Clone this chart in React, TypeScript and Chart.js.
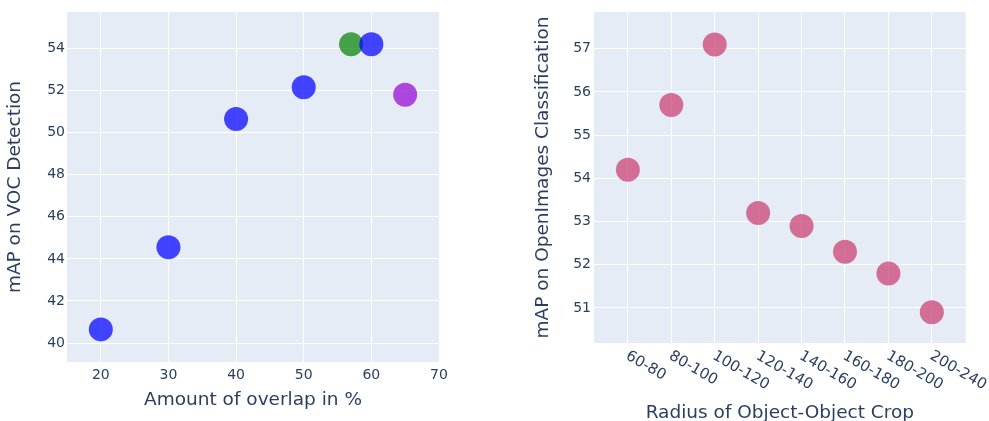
import React, { useEffect, useRef } from 'react';
import { Chart, registerables } from 'chart.js';

Chart.register(...registerables);

// ---------- data ----------
const overlapBlue = [20, 30, 40, 50, 60];
const vocBlue = [40.65, 44.55, 50.65, 52.15, 54.2];
const overlapGreen = [57];
const vocGreen = [54.2];
const overlapPurple = [65];
const vocPurple = [51.8];

const radiusCategories = ['60-80', '80-100', '100-120', '120-140', '140-160', '160-180', '180-200', '200-240'];
const openImagesMap = [54.2, 55.7, 57.1, 53.2, 52.9, 52.3, 51.8, 50.9];

const leftXTicks = [20, 30, 40, 50, 60, 70];
const leftYTicks = [40, 42, 44, 46, 48, 50, 52, 54];
const rightYTicks = [51, 52, 53, 54, 55, 56, 57];

// ---------- style ----------
const FONT = 'DejaVu Sans';
const TEXT = '#2a3f5f';
const PLOT_BG = '#e5ecf6';
const GRID = '#ffffff';

const bgPlugin = {
  id: 'plotBg',
  beforeDraw(chart: any) {
    const { ctx, chartArea } = chart;
    ctx.save();
    ctx.fillStyle = PLOT_BG;
    ctx.fillRect(chartArea.left, chartArea.top, chartArea.right - chartArea.left, chartArea.bottom - chartArea.top);
    ctx.restore();
  },
};

const rotatedTicksPlugin = {
  id: 'rotTicks',
  afterDraw(chart: any) {
    const s = chart.scales.x;
    const ctx = chart.ctx;
    ctx.save();
    ctx.font = `15px "${FONT}"`;
    ctx.fillStyle = TEXT;
    ctx.textAlign = 'left';
    ctx.textBaseline = 'middle';
    radiusCategories.forEach((lab, i) => {
      const x = s.getPixelForValue(i);
      ctx.save();
      ctx.translate(x - 1, s.top + 12);
      ctx.rotate(Math.PI / 6);
      ctx.fillText(lab, 0, 0);
      ctx.restore();
    });
    ctx.restore();
  },
};

const fixBox = (w: number | null, h: number | null) => (s: any) => {
  if (w !== null) s.width = w;
  if (h !== null) s.height = h;
  s.paddingLeft = 0;
  s.paddingRight = 0;
  s.paddingTop = 0;
  s.paddingBottom = 0;
};

const setTicks = (vals: number[]) => (s: any) => {
  s.ticks = vals.map((v) => ({ value: v }));
};

const tickFont = { family: FONT, size: 14 };
const titleFont = { family: FONT, size: 18.5 };

function LeftChart() {
  const ref = useRef<HTMLCanvasElement>(null);
  useEffect(() => {
    const chart = new Chart(ref.current!, {
      type: 'scatter',
      data: {
        datasets: [
          {
            label: 'blue',
            data: overlapBlue.map((x, i) => ({ x, y: vocBlue[i] })),
            backgroundColor: 'rgba(0,0,255,0.72)',
            pointRadius: 12,
            pointHoverRadius: 12,
            borderWidth: 0,
          },
          {
            label: 'green',
            data: overlapGreen.map((x, i) => ({ x, y: vocGreen[i] })),
            backgroundColor: 'rgba(0,128,0,0.7)',
            pointRadius: 12,
            pointHoverRadius: 12,
            borderWidth: 0,
          },
          {
            label: 'purple',
            data: overlapPurple.map((x, i) => ({ x, y: vocPurple[i] })),
            backgroundColor: 'rgba(148,0,211,0.7)',
            pointRadius: 12,
            pointHoverRadius: 12,
            borderWidth: 0,
          },
        ],
      },
      options: {
        responsive: false,
        animation: false,
        devicePixelRatio: 1,
        layout: { padding: { left: 0, right: 55, top: 7, bottom: 0 } },
        plugins: { legend: { display: false }, tooltip: { enabled: true } },
        scales: {
          x: {
            type: 'linear',
            min: 15,
            max: 70,
            afterBuildTicks: setTicks(leftXTicks),
            afterFit: fixBox(null, 59),
            grid: { color: GRID, lineWidth: 1, drawTicks: false },
            border: { display: false },
            ticks: { font: tickFont, color: TEXT, padding: 5, maxRotation: 0, autoSkip: false },
            title: {
              display: true,
              text: 'Amount of overlap in %',
              font: titleFont,
              color: TEXT,
              padding: { top: 0, bottom: 10 },
            },
          },
          y: {
            type: 'linear',
            min: 39.1,
            max: 55.73,
            afterBuildTicks: setTicks(leftYTicks),
            afterFit: fixBox(67, null),
            grid: { color: GRID, lineWidth: 1, drawTicks: false },
            border: { display: false },
            ticks: { font: tickFont, color: TEXT, padding: 2, autoSkip: false },
            title: {
              display: true,
              text: 'mAP on VOC Detection',
              font: titleFont,
              color: TEXT,
              padding: { top: 4, bottom: 0 },
            },
          },
        },
      },
      plugins: [bgPlugin],
    } as any);
    return () => chart.destroy();
  }, []);
  return <canvas ref={ref} width={494} height={421} style={{ display: 'block', width: 494, height: 421 }} />;
}

function RightChart() {
  const ref = useRef<HTMLCanvasElement>(null);
  useEffect(() => {
    const chart = new Chart(ref.current!, {
      type: 'scatter',
      data: {
        datasets: [
          {
            label: 'OpenImages',
            data: openImagesMap.map((y, i) => ({ x: i, y })),
            backgroundColor: 'rgba(205,79,126,0.8)',
            pointRadius: 12,
            pointHoverRadius: 12,
            borderWidth: 0,
          },
        ],
      },
      options: {
        responsive: false,
        animation: false,
        devicePixelRatio: 1,
        layout: { padding: { left: 0, right: 23.3, top: 7, bottom: 0 } },
        plugins: { legend: { display: false } },
        scales: {
          x: {
            type: 'linear',
            min: -0.78,
            max: 7.78,
            afterBuildTicks: setTicks(radiusCategories.map((_, i) => i)),
            afterFit: fixBox(null, 78),
            grid: { color: GRID, lineWidth: 1, drawTicks: false },
            border: { display: false },
            ticks: { display: false },
            title: {
              display: true,
              text: 'Radius of Object-Object Crop',
              font: titleFont,
              color: TEXT,
              padding: { top: 0, bottom: -3 },
            },
          },
          y: {
            type: 'linear',
            min: 50.19,
            max: 57.85,
            afterBuildTicks: setTicks(rightYTicks),
            afterFit: fixBox(100, null),
            grid: { color: GRID, lineWidth: 1, drawTicks: false },
            border: { display: false },
            ticks: { font: tickFont, color: TEXT, padding: 3, autoSkip: false },
            title: {
              display: true,
              text: 'mAP on OpenImages Classification',
              font: titleFont,
              color: TEXT,
              padding: { top: 38, bottom: 0 },
            },
          },
        },
      },
      plugins: [bgPlugin, rotatedTicksPlugin],
    } as any);
    return () => chart.destroy();
  }, []);
  return <canvas ref={ref} width={495} height={421} style={{ display: 'block', width: 495, height: 421 }} />;
}

export default function App() {
  return (
    <div style={{ position: 'fixed', left: 0, top: 0, width: 989, height: 421, background: '#ffffff', overflow: 'hidden' }}>
      <div style={{ position: 'absolute', left: 0, top: 0, width: 494, height: 421 }}>
        <LeftChart />
      </div>
      <div style={{ position: 'absolute', left: 494, top: 0, width: 495, height: 421 }}>
        <RightChart />
      </div>
    </div>
  );
}
